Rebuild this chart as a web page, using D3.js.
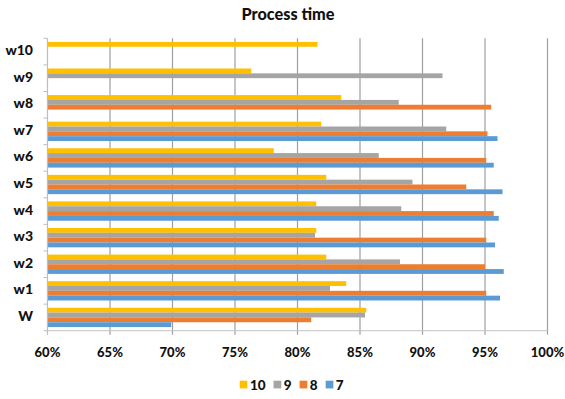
<!DOCTYPE html>
<html>
<head>
<meta charset="utf-8">
<script src="https://cdn.jsdelivr.net/npm/d3@7"></script>
<style>
  html, body { margin: 0; padding: 0; background: #fff; }
  svg { display: block; font-family: Lato, "Open Sans", sans-serif; }
</style>
</head>
<body>
<svg id="chart" width="565" height="399"></svg>
<script>
// Process time share per workstation, one bar per series (%)
const categories = ["W", "w1", "w2", "w3", "w4", "w5", "w6", "w7", "w8", "w9", "w10"];
const seriesNames = ["10", "9", "8", "7"];
const values10 = [85.5, 83.9, 82.3, 81.5, 81.5, 82.3, 78.1, 81.9, 83.5, 76.3, 81.6];
const values9  = [85.4, 82.6, 88.2, 81.4, 88.3, 89.2, 86.5, 91.9, 88.1, 91.6, null];
const values8  = [81.1, 95.1, 95.0, 95.1, 95.7, 93.5, 95.1, 95.2, 95.5, null, null];
const values7  = [69.9, 96.2, 96.5, 95.8, 96.1, 96.4, 95.7, 96.0, null, null, null];
const xTicks = [60, 65, 70, 75, 80, 85, 90, 95, 100];
const colors = ["#FFC000", "#A5A5A5", "#ED7D31", "#5B9BD5"];

const seriesValues = [values10, values9, values8, values7];

const svg = d3.select("#chart");
const plotLeft = 47.5, plotRight = 547.5, plotTop = 38.3, plotBottom = 330.7;
const labelWeight = 900;
const ink = "#111";

const x = d3.scaleLinear().domain([60, 100]).range([plotLeft, plotRight]);
const y = d3.scaleBand().domain(categories.slice().reverse()).range([plotTop, plotBottom]).padding(0);
const yInner = d3.scaleBand().domain(seriesNames).range([0, y.bandwidth()]).paddingInner(0).paddingOuter(0.75);
const color = d3.scaleOrdinal().domain(seriesNames).range(colors);

// Title
svg.append("text")
  .attr("x", 288).attr("y", 20)
  .attr("text-anchor", "middle")
  .attr("font-size", 17).attr("font-weight", labelWeight).attr("fill", ink)
  .attr("textLength", 93).attr("lengthAdjust", "spacingAndGlyphs")
  .text("Process time");

// Vertical gridlines with small ticks below the axis
svg.append("g").selectAll("line")
  .data(xTicks.slice(1))
  .join("line")
  .attr("x1", d => x(d)).attr("x2", d => x(d))
  .attr("y1", plotTop).attr("y2", plotBottom + 4)
  .attr("stroke", "#9e9e9e").attr("stroke-width", 1.2);

// Bars
const rows = [];
categories.forEach((c, i) => {
  seriesNames.forEach((s, j) => {
    const v = seriesValues[j][i];
    if (v != null) rows.push({ cat: c, series: s, value: v });
  });
});

svg.append("g").selectAll("rect")
  .data(rows)
  .join("rect")
  .attr("x", x(60))
  .attr("y", d => y(d.cat) + yInner(d.series))
  .attr("width", d => x(d.value) - x(60))
  .attr("height", yInner.bandwidth())
  .attr("fill", d => color(d.series));

// Left axis line with outward ticks at category boundaries
const boundaries = categories.map(c => y(c)).concat([plotBottom]);
svg.append("line")
  .attr("x1", x(60)).attr("x2", x(60))
  .attr("y1", plotTop).attr("y2", plotBottom + 4)
  .attr("stroke", "#bdbdbd").attr("stroke-width", 1.2);
svg.append("g").selectAll("line")
  .data(boundaries)
  .join("line")
  .attr("x1", x(60) - 4).attr("x2", x(60))
  .attr("y1", d => d).attr("y2", d => d)
  .attr("stroke", "#bdbdbd").attr("stroke-width", 1);

// Bottom axis line
svg.append("line")
  .attr("x1", x(60)).attr("x2", x(100))
  .attr("y1", plotBottom).attr("y2", plotBottom)
  .attr("stroke", "#c4c4c4").attr("stroke-width", 1);

// Category labels
svg.append("g").selectAll("text")
  .data(categories)
  .join("text")
  .attr("x", 33)
  .attr("y", d => y(d) + y.bandwidth() / 2 + 3.5)
  .attr("text-anchor", "end")
  .attr("font-size", 14).attr("font-weight", labelWeight).attr("fill", ink)
  .text(d => d);

// X tick labels
svg.append("g").selectAll("text")
  .data(xTicks)
  .join("text")
  .attr("x", d => x(d))
  .attr("y", 356.5)
  .attr("text-anchor", "middle")
  .attr("font-size", 13).attr("font-weight", labelWeight).attr("fill", ink)
  .text(d => d + "%");

// Legend
const legend = svg.append("g");
const sq = 7.7;
let cx = 0;
seriesNames.forEach(s => {
  const g = legend.append("g").attr("transform", `translate(${cx},0)`);
  g.append("rect").attr("x", 0).attr("y", 380.7).attr("width", sq).attr("height", sq).attr("fill", color(s));
  const t = g.append("text")
    .attr("x", sq + 2.5).attr("y", 389.5)
    .attr("font-size", 13.5).attr("font-weight", labelWeight).attr("fill", ink)
    .text(s);
  const w = t.node().getComputedTextLength();
  cx += sq + 2.5 + w + 8;
});
const legendWidth = cx - 8;
legend.attr("transform", `translate(${291.7 - legendWidth / 2},0)`);
</script>
</body>
</html>
